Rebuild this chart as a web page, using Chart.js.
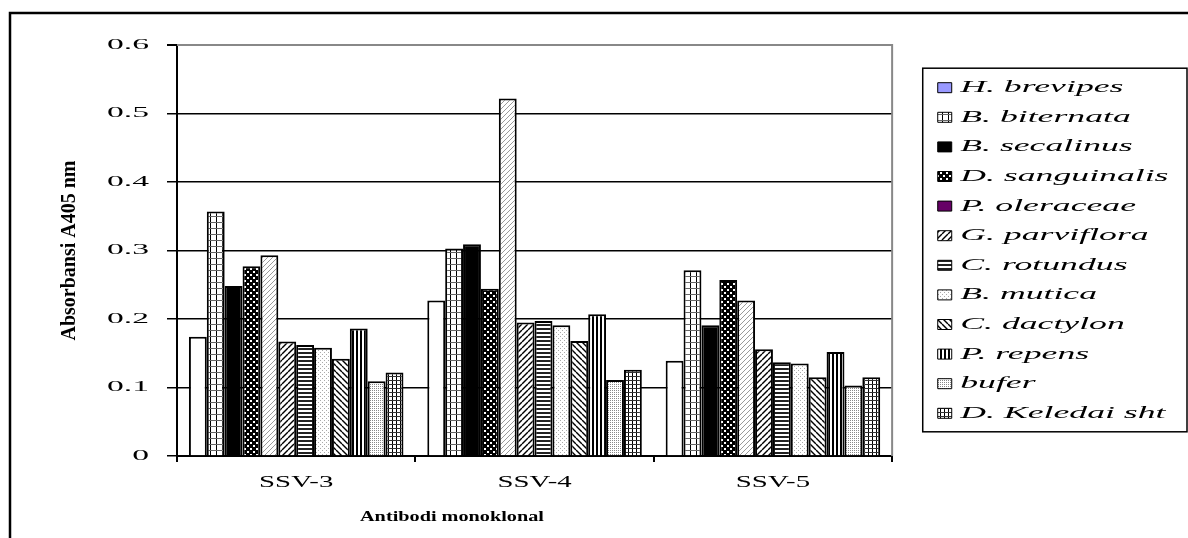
<!DOCTYPE html>
<html>
<head>
<meta charset="utf-8">
<script src="https://cdn.jsdelivr.net/npm/chart.js@4.4.1/dist/chart.umd.min.js"></script>
<style>
  body { margin: 0; background: #fff; }
  canvas { display: block; }
</style>
</head>
<body>
<canvas id="chart" width="1188" height="538"></canvas>
<script>
// data
var groups = ['SSV-3', 'SSV-4', 'SSV-5'];
var species = ['H. brevipes', 'B. biternata', 'B. secalinus', 'D. sanguinalis', 'P. oleraceae',
    'G. parviflora', 'C. rotundus', 'B. mutica', 'C. dactylon', 'P. repens', 'bufer', 'D. Keledai sht'];
var hBrevipes = [0.174, 0.227, 0.139];
var bBiternata = [0.357, 0.303, 0.271];
var bSecalinus = [0.248, 0.309, 0.191];
var dSanguinalis = [0.277, 0.244, 0.257];
var pOleraceae = [0.293, 0.522, 0.227];
var gParviflora = [0.167, 0.195, 0.156];
var cRotundus = [0.162, 0.197, 0.137];
var bMutica = [0.158, 0.191, 0.135];
var cDactylon = [0.142, 0.168, 0.115];
var pRepens = [0.186, 0.207, 0.152];
var bufer = [0.109, 0.111, 0.103];
var dKeledai = [0.122, 0.126, 0.115];
var yTickLabels = ['0', '0.1', '0.2', '0.3', '0.4', '0.5', '0.6'];
var xTitle = 'Antibodi monoklonal';

var canvas = document.getElementById('chart');
var ctx = canvas.getContext('2d');

// the original's horizontal text is drawn wide; stretch glyphs around their anchor
function textStretch() {
    var m = ctx.getTransform();
    if (Math.abs(m.b) > 0.01) return 1; // rotated y title stays as is
    var f = ctx.font;
    if (f.indexOf('italic') >= 0) return 2.1;
    if (f.indexOf('bold') >= 0) return 1.35;
    if (f.indexOf('14px') >= 0) return 2.4;
    return 1.8;
}
var rawFill = ctx.fillText.bind(ctx);
var rawMeasure = ctx.measureText.bind(ctx);
ctx.fillText = function(text, x, y) {
    var s = textStretch();
    if (s === 1) return rawFill(text, x, y);
    ctx.save();
    ctx.translate(x, y);
    ctx.scale(s, 1);
    rawFill(text, 0, 0);
    ctx.restore();
};
ctx.measureText = function(text) {
    var m = rawMeasure(text);
    return {
        width: m.width * textStretch(),
        actualBoundingBoxAscent: m.actualBoundingBoxAscent,
        actualBoundingBoxDescent: m.actualBoundingBoxDescent
    };
};

function tile(size, draw) {
    var c = document.createElement('canvas');
    c.width = c.height = size;
    var g = c.getContext('2d');
    g.fillStyle = '#fff';
    g.fillRect(0, 0, size, size);
    draw(g, size);
    return ctx.createPattern(c, 'repeat');
}
function diag(g, n, color, w, up) {
    g.strokeStyle = color;
    g.lineWidth = w;
    for (var k = -1; k <= 1; k++) {
        g.beginPath();
        if (up) { g.moveTo(k * n, n); g.lineTo(k * n + n, 0); }
        else { g.moveTo(k * n, 0); g.lineTo(k * n + n, n); }
        g.stroke();
    }
}

var fills = [
    '#ffffff',
    tile(6, function(g) { g.fillStyle = '#000'; g.fillRect(0, 0, 1, 6); g.fillStyle = '#666'; g.fillRect(0, 0, 6, 1); }),
    '#000000',
    tile(6, function(g) { g.fillStyle = '#000'; g.fillRect(0, 0, 6, 6); g.fillStyle = '#fff'; g.fillRect(1, 1, 2, 2); g.fillRect(4, 4, 2, 2); }),
    tile(5, function(g) { diag(g, 5, '#9a9a9a', 1, true); }),
    tile(6, function(g) { diag(g, 6, '#000', 1.4, true); }),
    tile(4, function(g) { g.fillStyle = '#222'; g.fillRect(0, 0, 4, 2); }),
    tile(4, function(g) { g.fillStyle = '#aaa'; g.fillRect(0, 0, 1, 1); g.fillRect(2, 2, 1, 1); }),
    tile(6, function(g) { diag(g, 6, '#000', 1.4, false); }),
    tile(4, function(g) { g.fillStyle = '#000'; g.fillRect(0, 0, 2, 4); }),
    tile(2, function(g) { g.fillStyle = '#888'; g.fillRect(0, 0, 1, 1); }),
    tile(4, function(g) { g.fillStyle = '#000'; g.fillRect(0, 0, 1, 4); g.fillStyle = '#333'; g.fillRect(0, 0, 4, 1); })
];
var legendFills = fills.slice();
legendFills[0] = '#9999ff';
legendFills[4] = '#660066';

var values = [hBrevipes, bBiternata, bSecalinus, dSanguinalis, pOleraceae, gParviflora,
    cRotundus, bMutica, cDactylon, pRepens, bufer, dKeledai];

var serif = "'Liberation Serif', 'Times New Roman', serif";

var framePlugin = {
    id: 'frame',
    beforeDraw: function(chart) {
        var c = chart.ctx;
        c.save();
        c.fillStyle = '#fff';
        c.fillRect(0, 0, chart.width, chart.height);
        c.restore();
    },
    afterLayout: function(chart) {
        chart.legend.left += 33;
        chart.legend.right += 33;
    },
    beforeDatasetsDraw: function(chart) {
        var a = chart.chartArea, c = chart.ctx;
        c.save();
        c.strokeStyle = '#888';
        c.lineWidth = 2;
        c.beginPath();
        c.moveTo(a.left, a.top);
        c.lineTo(a.right, a.top);
        c.lineTo(a.right, a.bottom);
        c.stroke();
        c.restore();
    },
    afterDraw: function(chart) {
        var c = chart.ctx;
        var boxes = chart.legend.legendHitBoxes;
        var first = boxes[0], last = boxes[boxes.length - 1];
        c.save();
        c.strokeStyle = '#000';
        c.lineWidth = 1.5;
        c.strokeRect(first.left - 15, first.top - 11, chart.width - 1 - (first.left - 15), last.top + last.height + 10 - (first.top - 11));
        c.lineWidth = 2.5;
        c.strokeRect(10, 13, 1400, 800);
        // x axis title, sits left of the plot centre in the original
        c.fillStyle = '#000';
        c.font = 'bold 15px ' + serif;
        c.textAlign = 'left';
        c.textBaseline = 'middle';
        c.fillText(xTitle, chart.chartArea.left + 183, 517);
        c.restore();
    }
};

var chart = new Chart(canvas, {
    type: 'bar',
    data: {
        labels: groups,
        datasets: species.map(function(name, i) {
            return {
                label: name,
                data: values[i],
                backgroundColor: fills[i],
                borderColor: '#000',
                borderWidth: 2,
                categoryPercentage: 0.9,
                barPercentage: 1.0
            };
        })
    },
    options: {
        responsive: false,
        animation: false,
        events: [],
        layout: { padding: { left: 12, top: 45, right: 42.5, bottom: 0 } },
        plugins: {
            tooltip: { enabled: false },
            legend: {
                position: 'right',
                fullSize: false,
                labels: {
                    boxWidth: 14,
                    boxHeight: 10,
                    padding: 12.6,
                    color: '#000',
                    font: { family: serif, size: 17, style: 'italic' },
                    generateLabels: function(chart) {
                        var items = Chart.defaults.plugins.legend.labels.generateLabels(chart);
                        items.forEach(function(it, i) {
                            it.fillStyle = legendFills[i];
                            it.strokeStyle = '#000';
                            it.lineWidth = 1;
                        });
                        return items;
                    }
                }
            }
        },
        scales: {
            x: {
                grid: { drawOnChartArea: false, tickLength: 6, color: '#000', lineWidth: 2 },
                border: { color: '#000', width: 2 },
                ticks: { color: '#000', font: { family: serif, size: 16 }, padding: 11 },
                afterFit: function(s) { s.height = 82; }
            },
            y: {
                min: 0,
                max: 0.6,
                ticks: {
                    stepSize: 0.1,
                    color: '#000',
                    padding: 18,
                    font: { family: serif, size: 14 },
                    callback: function(v, i) { return yTickLabels[i]; }
                },
                grid: {
                    color: function(c) { return c.tick.value >= 0.6 ? '#888' : '#000'; },
                    lineWidth: function(c) { return c.tick.value >= 0.6 ? 2 : 1.5; },
                    tickColor: '#000',
                    tickLength: 10
                },
                border: { color: '#000', width: 2 },
                title: {
                    display: true,
                    text: 'Absorbansi A405 nm',
                    color: '#000',
                    font: { family: serif, size: 20, weight: 'bold' },
                    padding: { top: 46 }
                },
                afterFit: function(s) { s.width = 165; }
            }
        }
    },
    plugins: [framePlugin]
});
</script>
</body>
</html>
